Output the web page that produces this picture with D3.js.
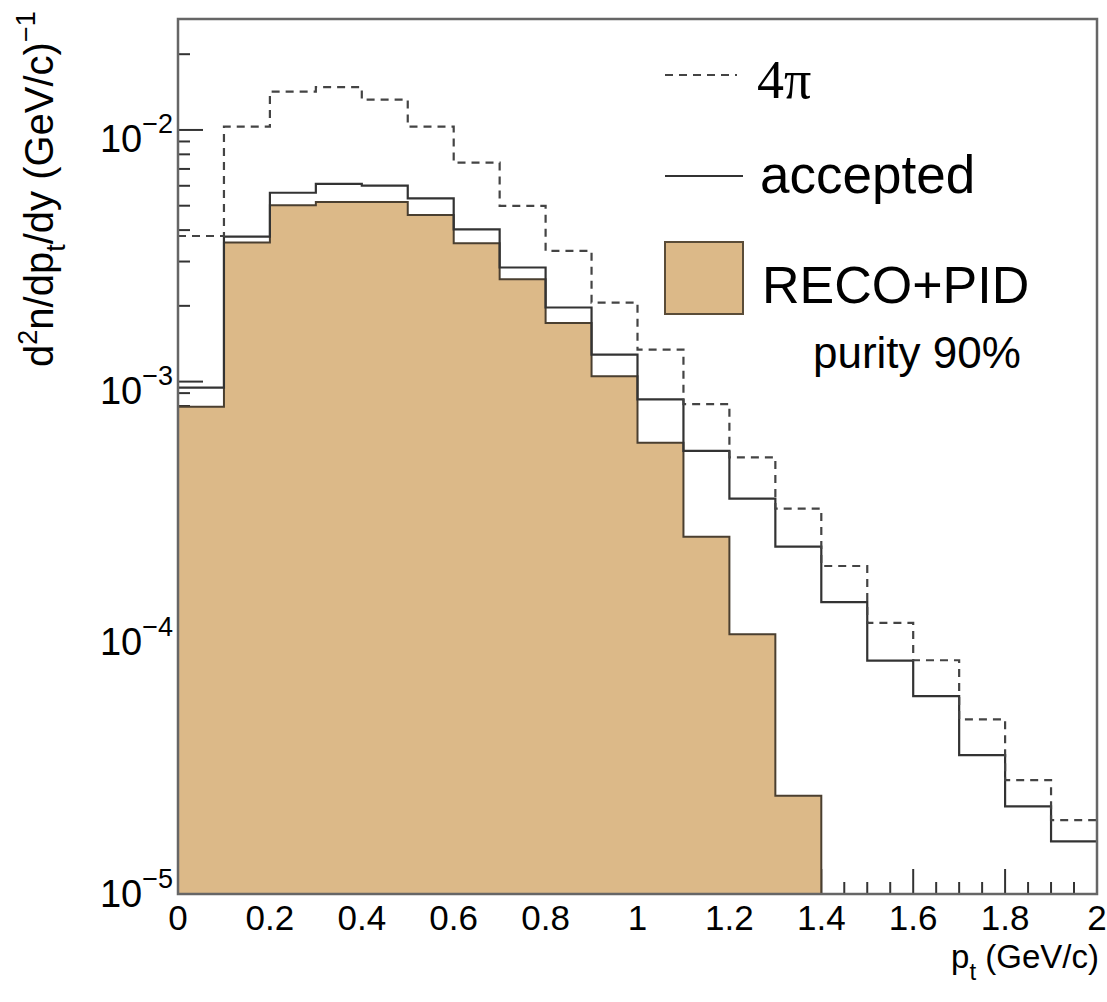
<!DOCTYPE html>
<html>
<head>
<meta charset="utf-8">
<script src="https://cdn.jsdelivr.net/npm/d3@7"></script>
<style>
  body { margin: 0; background: #fff; }
  svg { display: block; font-family: "Liberation Sans", Arial, sans-serif; }
</style>
</head>
<body>
<div id="chart"></div>
<script>
// bin lower edges in p_t (GeV/c), bin width 0.1
const binLow = [0, 0.1, 0.2, 0.3, 0.4, 0.5, 0.6, 0.7, 0.8, 0.9,
  1.0, 1.1, 1.2, 1.3, 1.4, 1.5, 1.6, 1.7, 1.8, 1.9];
const binWidth = 0.1;

const fourPi = [3.79e-3, 1.03e-2, 1.42e-2, 1.48e-2, 1.32e-2, 1.03e-2, 7.41e-3, 4.99e-3, 3.31e-3, 2.06e-3,
  1.34e-3, 8.14e-4, 5.0e-4, 3.13e-4, 1.85e-4, 1.10e-4, 7.81e-5, 4.55e-5, 2.61e-5, 1.81e-5];
const accepted = [9.46e-4, 3.77e-3, 5.63e-3, 6.1e-3, 6.01e-3, 5.35e-3, 4.03e-3, 2.84e-3, 1.97e-3, 1.28e-3,
  8.5e-4, 5.31e-4, 3.43e-4, 2.21e-4, 1.33e-4, 7.78e-5, 5.62e-5, 3.28e-5, 2.05e-5, 1.49e-5];
const recoPid = [7.94e-4, 3.57e-3, 5.02e-3, 5.17e-3, 5.17e-3, 4.59e-3, 3.55e-3, 2.55e-3, 1.71e-3, 1.05e-3,
  5.72e-4, 2.42e-4, 9.9e-5, 2.26e-5, 0, 0, 0, 0, 0, 0];

const xTicks = [0, 0.2, 0.4, 0.6, 0.8, 1, 1.2, 1.4, 1.6, 1.8, 2];
const yTickExp = [-2, -3, -4, -5];

const width = 1107, height = 1002;
const frame = { left: 178, right: 1097, top: 19, bottom: 894 };
const fillColor = "#dcb988";

const svg = d3.select("#chart").append("svg")
  .attr("width", width).attr("height", height);

const x = d3.scaleLinear().domain([0, 2]).range([frame.left, frame.right]);
const y = d3.scaleLog().domain([0.92e-5, 0.0276]).range([frame.bottom, frame.top]).clamp(true);

// ticks first, histograms cover them
const ticksG = svg.append("g").attr("stroke", "#333").attr("stroke-width", 2);
d3.range(0, 2.0001, 0.05).forEach((v) => {
  const major = Math.abs(v / 0.2 - Math.round(v / 0.2)) < 1e-6;
  ticksG.append("line")
    .attr("x1", x(v)).attr("x2", x(v))
    .attr("y1", frame.bottom).attr("y2", frame.bottom - (major ? 25 : 12));
});
[-5, -4, -3, -2].forEach((e) => {
  for (let m = 1; m <= 9; m++) {
    const v = m * Math.pow(10, e);
    if (v < y.domain()[0] || v > y.domain()[1]) continue;
    ticksG.append("line")
      .attr("x1", frame.left).attr("x2", frame.left + (m === 1 ? 25 : 12))
      .attr("y1", y(v)).attr("y2", y(v));
  }
});

// step points: one per bin plus the closing edge
function steps(values) {
  const pts = [];
  values.forEach((v, i) => { if (v > 0) pts.push([binLow[i], v]); });
  const last = pts[pts.length - 1];
  pts.push([last[0] + binWidth, last[1]]);
  return pts;
}

const area = d3.area()
  .curve(d3.curveStepAfter)
  .x((d) => x(d[0]))
  .y0(frame.bottom)
  .y1((d) => y(d[1]));

const line = d3.line()
  .curve(d3.curveStepAfter)
  .x((d) => x(d[0]))
  .y((d) => y(d[1]));

// RECO+PID filled histogram (outline stroked with the same stepped path)
svg.append("path")
  .datum(steps(recoPid))
  .attr("d", area)
  .attr("fill", fillColor)
  .attr("stroke", "#4a3f30")
  .attr("stroke-width", 2);

// accepted, solid
svg.append("path")
  .datum(steps(accepted))
  .attr("d", line)
  .attr("fill", "none")
  .attr("stroke", "#333")
  .attr("stroke-width", 2.2);

// 4pi, dashed
svg.append("path")
  .datum(steps(fourPi))
  .attr("d", line)
  .attr("fill", "none")
  .attr("stroke", "#444")
  .attr("stroke-width", 2.2)
  .attr("stroke-dasharray", "8,6");

// frame
svg.append("rect")
  .attr("x", frame.left).attr("y", frame.top)
  .attr("width", frame.right - frame.left)
  .attr("height", frame.bottom - frame.top)
  .attr("fill", "none")
  .attr("stroke", "#666")
  .attr("stroke-width", 2.5);

// x tick labels
svg.append("g").selectAll("text")
  .data(xTicks)
  .join("text")
  .attr("x", (d) => x(d))
  .attr("y", 930)
  .attr("text-anchor", "middle")
  .attr("font-size", 35)
  .text((d) => d3.format("")(d));

// y tick labels 10^e
yTickExp.forEach((e) => {
  const ty = y(Math.pow(10, e));
  const t = svg.append("text")
    .attr("x", 173)
    .attr("y", ty + 22)
    .attr("text-anchor", "end")
    .attr("font-size", 38);
  t.append("tspan").text("10");
  t.append("tspan").attr("font-size", 27).attr("dy", -19).text("\u2212" + Math.abs(e));
});

// x title
const xt = svg.append("text")
  .attr("x", 1099).attr("y", 968)
  .attr("text-anchor", "end")
  .attr("font-size", 33);
xt.append("tspan").text("p");
xt.append("tspan").attr("font-size", 24).attr("dy", 12).text("t");
xt.append("tspan").attr("dy", -12).text(" (GeV/c)");

// y title
const yt = svg.append("text")
  .attr("transform", "translate(53,367) rotate(-90)")
  .attr("text-anchor", "start")
  .attr("font-size", 40);
yt.append("tspan").text("d");
yt.append("tspan").attr("font-size", 27).attr("dy", -16).text("2");
yt.append("tspan").attr("dy", 16).text("n/dp");
yt.append("tspan").attr("font-size", 27).attr("dy", 12).text("t");
yt.append("tspan").attr("dy", -12).text("/dy (GeV/c)");
yt.append("tspan").attr("font-size", 27).attr("dy", -18).text("\u22121");

// legend
const lg = svg.append("g");
lg.append("line")
  .attr("x1", 665).attr("x2", 737).attr("y1", 75).attr("y2", 75)
  .attr("stroke", "#444").attr("stroke-width", 2.2).attr("stroke-dasharray", "8,6");
lg.append("text")
  .attr("x", 757).attr("y", 98)
  .attr("font-family", "'Liberation Serif', 'DejaVu Serif', serif")
  .attr("font-size", 54)
  .text("4\u03c0");
lg.append("line")
  .attr("x1", 665).attr("x2", 743).attr("y1", 176).attr("y2", 176)
  .attr("stroke", "#333").attr("stroke-width", 2.2);
lg.append("text")
  .attr("x", 760).attr("y", 193)
  .attr("font-size", 53)
  .text("accepted");
lg.append("rect")
  .attr("x", 665).attr("y", 242).attr("width", 78).attr("height", 72)
  .attr("fill", fillColor).attr("stroke", "#5a4c38").attr("stroke-width", 2);
lg.append("text")
  .attr("x", 762).attr("y", 303)
  .attr("font-size", 52)
  .text("RECO+PID");
lg.append("text")
  .attr("x", 813).attr("y", 368)
  .attr("font-size", 44)
  .text("purity 90%");
</script>
</body>
</html>
